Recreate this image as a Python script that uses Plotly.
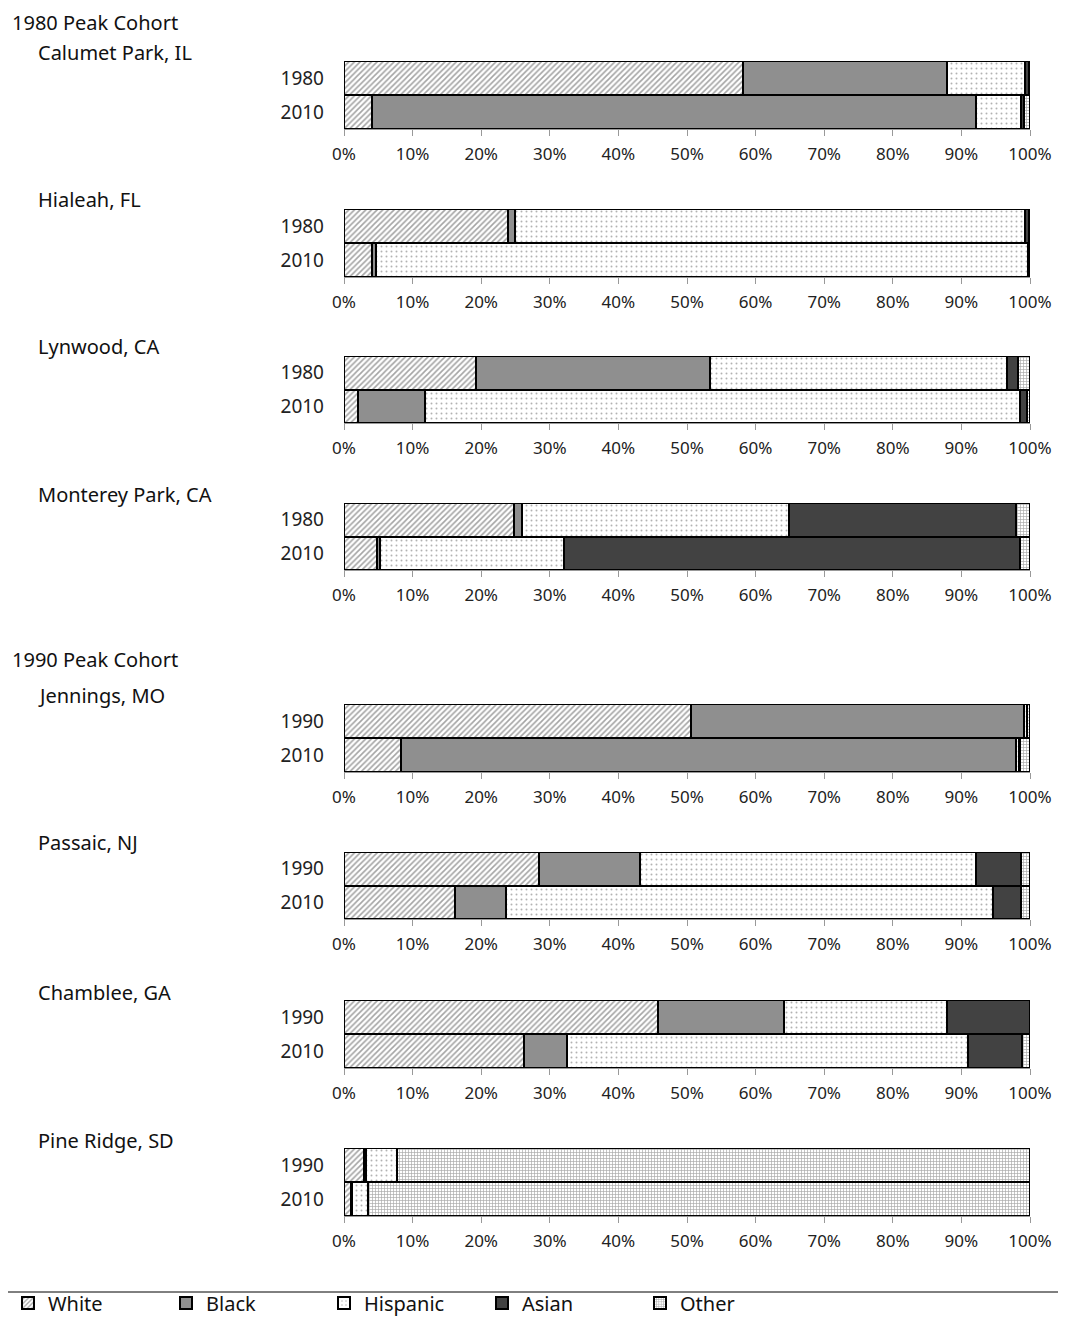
import plotly.graph_objects as go

# the page adds an 8 px body margin, so the figure is drawn in a slightly smaller box
FW, FH = 1050, 1311
OFF = 8

cities = ["Calumet Park, IL", "Hialeah, FL", "Lynwood, CA", "Monterey Park, CA",
          "Jennings, MO", "Passaic, NJ", "Chamblee, GA", "Pine Ridge, SD"]
years = [["1980", "2010"]] * 4 + [["1990", "2010"]] * 4
cohorts = ["1980 Peak Cohort", "1990 Peak Cohort"]
races = ["White", "Black", "Hispanic", "Asian", "Other"]
tick_vals = [0, 10, 20, 30, 40, 50, 60, 70, 80, 90, 100]
tick_text = ["0%", "10%", "20%", "30%", "40%", "50%", "60%", "70%", "80%", "90%", "100%"]

# percentages per city: [first year, 2010]
white = [[58.2, 4.1], [23.9, 4.1], [19.2, 2.0], [24.8, 4.8],
         [50.6, 8.3], [28.4, 16.2], [45.8, 26.2], [2.9, 1.0]]
black = [[29.7, 88.0], [1.0, 0.5], [34.2, 9.8], [1.1, 0.4],
         [48.5, 89.7], [14.7, 7.4], [18.3, 6.3], [0.3, 0.2]]
hispanic = [[11.4, 6.6], [74.4, 95.1], [43.2, 86.7], [39.0, 26.9],
            [0.4, 0.4], [49.0, 71.0], [23.8, 58.5], [4.5, 2.3]]
asian = [[0.5, 0.4], [0.5, 0.2], [1.7, 1.0], [33.1, 66.4],
         [0.1, 0.2], [6.6, 4.1], [12.1, 7.8], [0.0, 0.0]]
other = [[0.2, 0.9], [0.2, 0.1], [1.7, 0.5], [2.0, 1.5],
         [0.4, 1.4], [1.3, 1.3], [0.0, 1.2], [92.3, 96.5]]
race_data = [white, black, hispanic, asian, other]

styles = {
    "White": dict(color="white", pattern=dict(shape="/", fgcolor="#4a4a4a", bgcolor="white",
                                               size=4, solidity=0.4)),
    "Black": dict(color="#8f8f8f"),
    "Hispanic": dict(color="white", pattern=dict(shape=".", fgcolor="#666666", bgcolor="white",
                                                  size=5, solidity=0.12)),
    "Asian": dict(color="#424242"),
    "Other": dict(color="white", pattern=dict(shape="+", fgcolor="#555555", bgcolor="white",
                                               size=3, solidity=0.4)),
}


def px_x(s):
    return (s - OFF) / FW


def px_y(s):
    return 1 - (s - OFF) / FH


# screen geometry (top, bottom of bar area) for each panel
bar_px = [(61, 129), (209, 277), (356, 423), (503, 570),
          (704, 772), (852, 919), (1000, 1068), (1148, 1216)]
title_px = [52, 200, 347, 494, 695, 843, 992, 1140]
cohort_px = [23, 660]
x0_px, x1_px = 344, 1030

fig = go.Figure()
layout = {}
for i, city in enumerate(cities):
    n = i + 1
    xa = "x" if n == 1 else f"x{n}"
    ya = "y" if n == 1 else f"y{n}"
    for r, race in enumerate(races):
        st = styles[race]
        fig.add_trace(go.Bar(
            x=race_data[r][i], y=years[i], orientation="h", name=race,
            legendgroup=race, showlegend=(i == 0),
            marker=dict(line=dict(color="black", width=2), **st),
            xaxis=xa, yaxis=ya, hoverinfo="x+name",
        ))
    top, bot = bar_px[i]
    layout[f"xaxis{n}"] = dict(
        domain=[px_x(x0_px), px_x(x1_px)], anchor=ya, range=[0, 100], automargin=False,
        tickvals=tick_vals, ticktext=tick_text, showgrid=False, zeroline=False,
        showline=True, linecolor="#999999", linewidth=1,
        ticks="outside", ticklen=6, tickcolor="#999999", ticklabelstandoff=4,
        tickfont=dict(family="Noto Sans", size=17, color="#222222"),
        fixedrange=True,
    )
    layout[f"yaxis{n}"] = dict(
        domain=[px_y(bot), px_y(top)], anchor=xa, type="category", automargin=False,
        categoryorder="array", categoryarray=years[i][::-1], range=[-0.5, 1.5],
        showgrid=False, zeroline=False, showline=False, ticks="",
        ticklabelstandoff=19,
        tickfont=dict(family="Noto Sans", size=19, color="#222222"),
        fixedrange=True,
    )

annotations = []
for i, city in enumerate(cities):
    annotations.append(dict(text=city, x=px_x(36), y=px_y(title_px[i]), xref="paper", yref="paper",
                            xanchor="left", yanchor="middle", showarrow=False,
                            font=dict(family="Noto Sans", size=20, color="#111111")))
for c, cy in zip(cohorts, cohort_px):
    annotations.append(dict(text=c, x=px_x(10), y=px_y(cy), xref="paper", yref="paper",
                            xanchor="left", yanchor="middle", showarrow=False,
                            font=dict(family="Noto Sans", size=20, color="#111111")))

fig.update_layout(
    width=FW, height=FH, margin=dict(l=0, r=0, t=0, b=0, autoexpand=False),
    paper_bgcolor="white", plot_bgcolor="white",
    barmode="stack", bargap=0,
    annotations=annotations,
    shapes=[dict(type="line", xref="paper", yref="paper", x0=px_x(0), x1=1,
                 y0=px_y(1292), y1=px_y(1292), line=dict(color="black", width=1))],
    legend=dict(orientation="h", x=0, xanchor="left", y=px_y(1303), yanchor="middle",
                font=dict(family="Noto Sans", size=20, color="#111111"),
                entrywidth=113, itemwidth=30, traceorder="normal",
                bgcolor="rgba(0,0,0,0)"),
    **layout,
)

fig.write_html("out.html")
